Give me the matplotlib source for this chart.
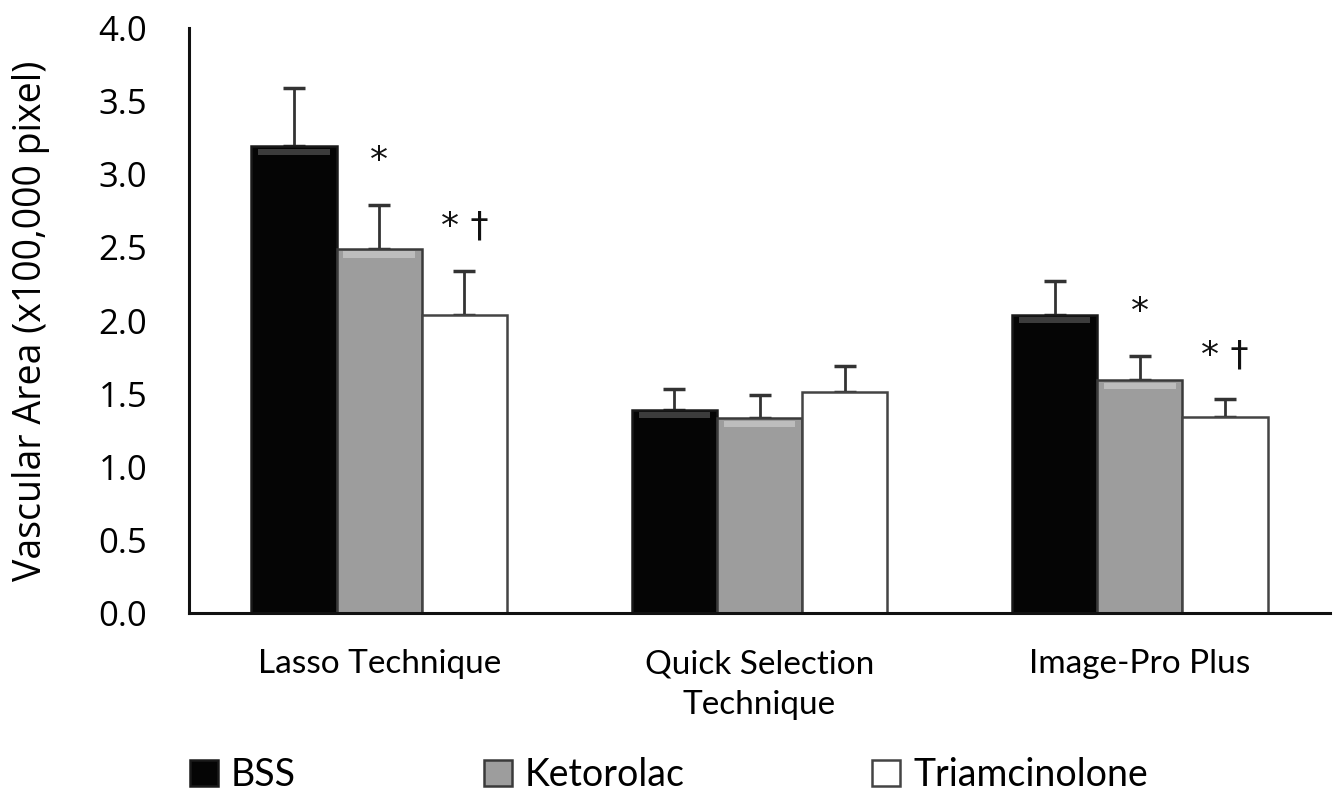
import numpy as np
import matplotlib.pyplot as plt

categories = ["Lasso Technique", "Quick Selection\nTechnique", "Image-Pro Plus"]
groups = ["BSS", "Ketorolac", "Triamcinolone"]

# mean values (x100,000 pixel) per group, one entry per category
bss = [3.19, 1.39, 2.04]
ketorolac = [2.49, 1.33, 1.59]
triamcinolone = [2.04, 1.51, 1.34]

# upper error (SD) per group
bss_err = [0.40, 0.14, 0.23]
ketorolac_err = [0.30, 0.16, 0.17]
triamcinolone_err = [0.30, 0.18, 0.12]

# significance marks
bss_sig = ["", "", ""]
ketorolac_sig = ["*", "", "*"]
triamcinolone_sig = ["* \u2020", "", "* \u2020"]

yticks = [0.0, 0.5, 1.0, 1.5, 2.0, 2.5, 3.0, 3.5, 4.0]

fills = ["#050505", "#9d9d9d", "#ffffff"]
edges = ["#1a1a1a", "#3a3a3a", "#444444"]
bevels = ["#3c3c3c", "#bdbdbd", None]

W, H = 1336, 796
fig = plt.figure(figsize=(W / 100, H / 100), dpi=100)
ax = fig.add_axes([189 / W, 1 - 613 / H, (1330 - 189) / W, (613 - 28) / H])

x = np.arange(len(categories))
bw = 0.224
series = [(bss, bss_err, bss_sig), (ketorolac, ketorolac_err, ketorolac_sig),
          (triamcinolone, triamcinolone_err, triamcinolone_sig)]

handles = []
for i, (vals, errs, sigs) in enumerate(series):
    pos = x + (i - 1) * bw
    vals = np.array(vals)
    errs = np.array(errs)
    b = ax.bar(pos, vals, bw, color=fills[i], edgecolor=edges[i], linewidth=1.8,
               label=groups[i], zorder=2)
    handles.append(b)
    if bevels[i]:
        # soft highlight under the top edge, like the Excel bevel
        ax.bar(pos, np.full(3, 0.045), bw * 0.84, bottom=vals - 0.06,
               color=bevels[i], linewidth=0, zorder=3)
    ax.errorbar(pos, vals, yerr=[np.zeros(3), errs], fmt="none", ecolor="#333333",
                elinewidth=2, capsize=8, capthick=2.5, zorder=1)
    for p, v, e, s in zip(pos, vals, errs, sigs):
        if s:
            ax.text(p, v + e + 0.3, s, ha="center", va="center", fontsize=26,
                    family="DejaVu Sans", color="#111111")

ax.set_xlim(-0.5, 2.5)
ax.set_ylim(0, 4.0)
ax.set_yticks(yticks)
ax.set_yticklabels([f"{t:.1f}" for t in yticks], fontsize=25, family="Open Sans")
ax.tick_params(axis="y", length=0, pad=30)
ax.set_xticks(x)
ax.set_xticklabels(categories, fontsize=24, family="Lato", linespacing=1.45)
ax.tick_params(axis="x", length=0, pad=26)

for s in ["top", "right"]:
    ax.spines[s].set_visible(False)
for s in ["left", "bottom"]:
    ax.spines[s].set_linewidth(2.2)
    ax.spines[s].set_color("#111111")

ax.set_ylabel("Vascular Area (x100,000 pixel)", fontsize=27, family="Open Sans")
ax.yaxis.set_label_coords(-0.122, 0.5)

fig.legend(handles=handles, labels=groups, loc="center left", bbox_to_anchor=(156 / W, 1 - 775 / H),
           ncol=3, frameon=False, prop={"family": "Lato", "size": 27},
           handlelength=0.75, handleheight=0.7, handletextpad=0.35, columnspacing=5.0)

fig.savefig("out.png", dpi=100)
